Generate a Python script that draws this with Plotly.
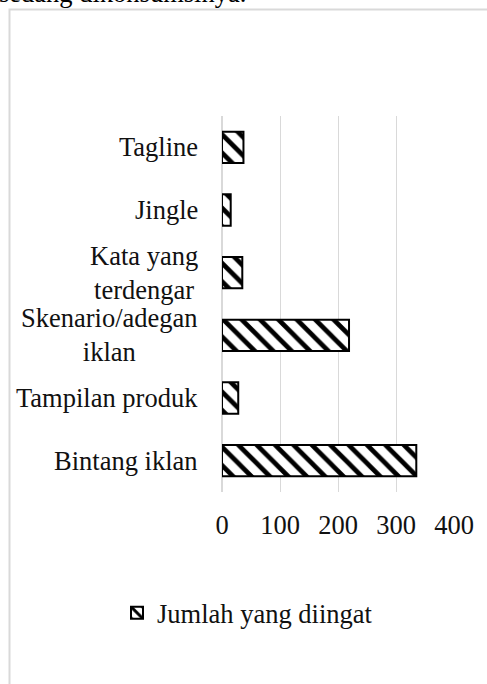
import plotly.graph_objects as go

# Data (bottom to top as drawn)
categories = ["Bintang iklan", "Tampilan produk", "Skenario/adegan iklan",
              "Kata yang terdengar", "Jingle", "Tagline"]
label_text = ["Bintang iklan", "Tampilan produk", "Skenario/adegan<br>iklan",
              "Kata yang<br>terdengar", "Jingle", "Tagline"]
values = [335, 28, 219, 35, 15, 37]
series_name = "Jumlah yang diingat"
x_ticks = [0, 100, 200, 300, 400]

FONT = "Liberation Serif, Times New Roman, serif"
FS = 26.5
W, H = 487, 684
L, R, T, B = 222, 33, 116, 192
pw, ph = W - L - R, H - T - B

def px_x(p):
    return (p - L) / pw

def px_y(p):
    return (H - B - p) / ph

fig = go.Figure()
fig.add_trace(go.Bar(
    y=categories, x=values, orientation="h", name=series_name,
    marker=dict(color="white",
                line=dict(color="black", width=2),
                pattern=dict(shape="\\", fgcolor="black", bgcolor="white",
                             fgopacity=1, size=13, solidity=0.36)),
    width=0.5, showlegend=True,
))

annotations = []
for c, t in zip(categories, label_text):
    annotations.append(dict(x=0, xref="paper", xshift=-22, xanchor="right",
                            y=c, yref="y", text=t, showarrow=False,
                            align="center", font=dict(family=FONT, size=FS, color="#111111")))
# cut-off text from the page above the chart
annotations.append(dict(x=px_x(-3), xref="paper", xanchor="left",
                        y=px_y(10.5), yref="paper", yanchor="bottom",
                        text="sedang dikonsumsinya.", showarrow=False,
                        font=dict(family=FONT, size=FS, color="black")))

fig.update_layout(
    width=W, height=H,
    margin=dict(l=L, r=R, t=T, b=B),
    paper_bgcolor="white", plot_bgcolor="white",
    font=dict(family=FONT, size=FS, color="#111111"),
    xaxis=dict(range=[0, 400], tickvals=x_ticks, showgrid=True,
               gridcolor="#d9d9d9", gridwidth=1, zeroline=False,
               showline=False, ticks="", ticklabelstandoff=14,
               tickfont=dict(family=FONT, size=FS, color="#111111"),
               fixedrange=True),
    yaxis=dict(categoryorder="array", categoryarray=categories,
               showticklabels=False, showgrid=False, zeroline=False,
               showline=False, ticks="", fixedrange=True),
    showlegend=True,
    legend=dict(orientation="h", x=px_x(117), xanchor="left",
                y=px_y(613), yanchor="middle",
                font=dict(family=FONT, size=FS, color="#111111"),
                bgcolor="rgba(0,0,0,0)", borderwidth=0),
    annotations=annotations,
    shapes=[
        dict(type="rect", xref="paper", yref="paper",
             x0=px_x(9.5), x1=px_x(W + 20), y0=px_y(H + 20), y1=px_y(9.5),
             line=dict(color="#d9d9d9", width=2), fillcolor="rgba(0,0,0,0)",
             layer="below"),
        dict(type="line", xref="paper", yref="paper",
             x0=0, x1=0, y0=0, y1=1,
             line=dict(color="#d9d9d9", width=2), layer="below"),
    ],
)

fig.write_html("out.html")
